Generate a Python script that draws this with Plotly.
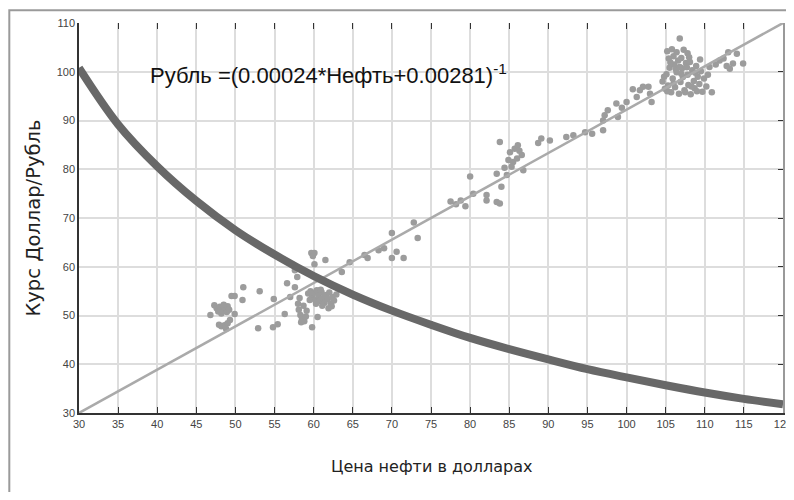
import plotly.graph_objects as go

# Fitted curve values (x = oil price, y = RUB per USD)
curve_oil = [30, 35, 40, 45, 50, 55, 60, 65, 70, 75, 80, 85, 90, 95, 100, 105, 110, 115, 120]
curve_rub = [100.8, 89.2, 80.6, 73.5, 67.5, 62.5, 58.1, 54.3, 51.0, 48.1, 45.4, 43.1, 41.0,
             39.0, 37.3, 35.7, 34.2, 32.9, 31.8]

# Straight trend line
trend_oil = [30, 120]
trend_rub = [30, 110]

# Observed points
obs_oil = [47.3, 46.8, 47.6, 48.0, 48.3, 48.6, 48.9, 48.2, 49.0, 48.5, 47.8, 49.2, 49.5, 49.9, 51.0,
           50.9, 49.9, 49.3, 48.2, 48.6, 49.0, 48.8, 47.9,
           53.1, 52.9, 54.8, 55.4, 54.9, 56.3, 56.6, 57.6, 57.9, 57.0, 58.2, 57.6, 58.0, 58.1, 58.3,
           58.5, 58.8, 59.0, 58.4, 59.1, 58.7, 59.8, 60.5, 59.7, 60.1, 59.9, 60.1, 61.5,
           59.3, 59.6, 59.8, 60.0, 60.2, 60.4, 60.6, 60.8, 61.0, 61.2, 61.4, 61.6, 61.8, 62.0, 62.2,
           62.4, 62.6, 62.9, 60.3, 61.1, 61.9, 62.3, 59.5, 60.9,
           63.6, 64.6, 66.5, 66.9, 68.3, 69.0, 70.0, 70.6, 71.5, 70.0, 72.8, 73.3,
           77.5, 78.2, 78.8, 79.4, 80.4, 80.0, 82.1, 82.1, 83.4, 83.8, 84.0, 83.4, 84.7,
           83.8, 84.4, 84.9, 85.1, 85.5, 85.7, 86.1, 86.6, 86.8, 86.3, 85.3, 86.0,
           88.7, 89.1, 90.2, 92.3, 93.2, 94.7, 95.6, 97.0, 97.0, 97.6, 97.2, 98.7, 98.9, 100.0, 101.3,
           101.7, 102.1, 103.2, 103.0, 102.8, 100.8, 99.4,
           105.2, 105.8, 106.4, 106.8, 107.3, 107.8, 106.0, 107.0,
           104.6, 104.9, 105.1, 105.3, 105.5, 105.7, 105.9, 106.1, 106.2, 106.4, 106.6, 106.7, 106.9,
           107.1, 107.2, 107.4, 107.6, 107.8, 107.9, 108.1, 108.2, 108.4, 108.6, 108.7, 108.9, 109.1,
           109.3, 109.5, 109.7, 109.9, 110.2, 110.4, 110.9, 105.6, 106.3, 107.0, 107.7, 108.3, 109.0,
           106.0, 105.2, 104.8, 108.0, 109.4, 110.6, 106.8, 107.5, 108.8, 105.4,
           113.0, 114.1, 113.6, 114.9, 113.2, 112.4, 111.9, 111.4, 112.8]
obs_rub = [52.1, 50.1, 51.5, 51.8, 51.0, 51.6, 50.7, 50.4, 51.9, 52.2, 50.8, 51.2, 54.0, 54.0, 55.8,
           53.2, 50.3, 49.1, 47.8, 48.0, 48.4, 47.3, 48.1,
           55.0, 47.4, 47.6, 48.2, 53.4, 50.3, 56.6, 55.8, 57.9, 53.8, 53.6, 59.3, 52.4, 51.2, 50.1,
           49.3, 48.8, 49.8, 48.6, 51.0, 52.0, 47.6, 49.7, 62.8, 62.8, 62.2, 60.5, 61.4,
           54.5, 55.0, 53.8, 54.6, 53.2, 55.2, 54.0, 53.0, 54.8, 53.6, 52.6, 54.2, 53.4, 54.7, 52.4,
           53.8, 53.1, 54.3, 52.4, 52.0, 51.5, 51.9, 53.2, 55.3,
           58.9, 60.9, 62.4, 61.8, 63.4, 63.8, 61.8, 63.1, 61.8, 66.9, 69.1, 65.9,
           73.4, 72.8, 73.6, 72.4, 75.0, 78.5, 74.7, 73.6, 73.3, 73.0, 76.4, 79.1, 78.8,
           85.6, 80.3, 81.9, 83.5, 81.5, 84.2, 84.9, 82.9, 79.8, 83.8, 80.5, 82.2,
           85.4, 86.3, 85.9, 86.6, 87.0, 87.6, 87.3, 88.0, 90.0, 92.1, 91.1, 93.5, 90.7, 93.8, 94.8,
           96.2, 96.9, 93.8, 95.5, 96.9, 96.4, 92.6,
           104.2, 104.6, 104.0, 106.8, 104.5, 103.8, 103.2, 102.8,
           98.0, 96.5, 99.5, 97.2, 100.8, 95.8, 98.6, 101.5, 96.8, 99.9, 102.3, 95.5, 97.9,
           100.7, 98.9, 96.2, 101.8, 99.4, 97.3, 102.0, 95.4, 100.3, 98.1, 96.6, 101.2, 99.0,
           97.5, 100.1, 95.9, 98.6, 97.0, 99.4, 95.8, 101.9, 100.5, 99.6, 100.9, 97.0, 96.0,
           97.6, 96.0, 99.0, 103.0, 102.5, 101.0, 101.0, 95.8, 99.8, 102.7,
           104.0, 103.7, 101.7, 101.7, 100.6, 102.7, 102.3, 101.5, 101.2]

x_ticks = list(range(30, 125, 5))
y_ticks = list(range(30, 120, 10))

equation = "Рубль =(0.00024*Нефть+0.00281)<sup>-1</sup>"
x_title = "Цена нефти в долларах"
y_title = "Курс Доллар/Рубль"

narrow = "Liberation Sans Narrow, Liberation Sans, Arial, sans-serif"
tick_font = dict(family=narrow, size=11, color="#444444")

fig = go.Figure()
fig.add_trace(go.Scatter(x=obs_oil, y=obs_rub, mode="markers",
                         marker=dict(color="#9c9c9c", size=6.5), showlegend=False))
fig.add_trace(go.Scatter(x=trend_oil, y=trend_rub, mode="lines",
                         line=dict(color="#aaaaaa", width=2.5), showlegend=False))
fig.add_trace(go.Scatter(x=curve_oil, y=curve_rub, mode="lines", line_shape="spline",
                         line=dict(color="#686868", width=8), showlegend=False))
# invisible trace for mirrored tick axes
fig.add_trace(go.Scatter(x=[30], y=[30], xaxis="x2", yaxis="y2", mode="markers",
                         marker=dict(opacity=0), showlegend=False, hoverinfo="skip"))

fig.update_layout(
    width=786, height=484,
    margin=dict(l=71, r=11, t=15, b=79),
    paper_bgcolor="white", plot_bgcolor="white",
    font=dict(family="DejaVu Sans, sans-serif", color="#222222"),
    xaxis=dict(range=[30, 120], tickvals=x_ticks, showgrid=True, gridcolor="#dddddd", gridwidth=1.5,
               showline=True, linecolor="#333333", linewidth=1.5, ticks="inside", ticklen=6,
               tickcolor="#333333", tickfont=tick_font, zeroline=False, automargin=False,
               ticklabeloverflow="allow"),
    yaxis=dict(range=[30, 110], tickvals=y_ticks, showgrid=True, gridcolor="#dddddd", gridwidth=1.5,
               showline=True, linecolor="#333333", linewidth=1.5, ticks="", tickfont=tick_font,
               zeroline=False, automargin=False),
    xaxis2=dict(range=[30, 120], tickvals=x_ticks, overlaying="x", side="top", showgrid=False,
                showline=False, ticks="inside", ticklen=6, tickcolor="#333333",
                showticklabels=False, zeroline=False, automargin=False),
    yaxis2=dict(range=[30, 110], tickvals=y_ticks, overlaying="y", side="right", showgrid=False,
                showline=True, linecolor="#999999", linewidth=1.5, ticks="inside", ticklen=5,
                tickcolor="#333333", showticklabels=False, zeroline=False, automargin=False),
    annotations=[
        dict(x=38.8, y=99.6, xref="x", yref="y", text=equation, showarrow=False,
             xanchor="left", yanchor="middle",
             font=dict(family=narrow, size=22, color="#111111")),
        dict(x=0.5, y=-0.137, xref="paper", yref="paper", text=x_title, showarrow=False,
             xanchor="center", yanchor="middle",
             font=dict(family="DejaVu Sans, sans-serif", size=16, color="#222222")),
        dict(x=-0.066, y=0.5, xref="paper", yref="paper", text=y_title, showarrow=False,
             xanchor="center", yanchor="middle", textangle=-90,
             font=dict(family="DejaVu Sans, sans-serif", size=19.5, color="#222222")),
    ],
    shapes=[dict(type="rect", xref="paper", yref="paper", x0=-0.099, x1=1.05, y0=-0.4, y1=1.033,
                 line=dict(color="#9a9a9a", width=2), layer="below")],
)

fig.write_html("out.html")
